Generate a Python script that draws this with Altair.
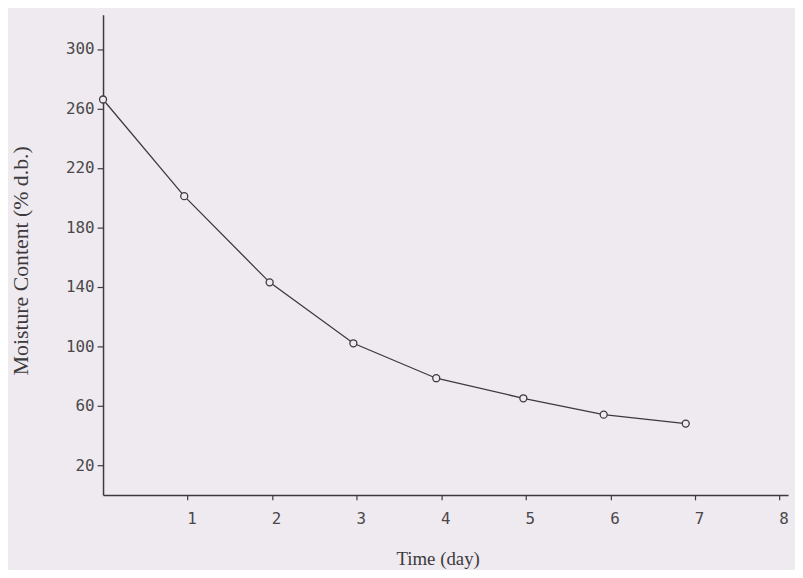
import altair as alt
import pandas as pd

days = [0, 0.96, 1.97, 2.96, 3.94, 4.97, 5.92, 6.89]
moisture = [266, 201, 143, 102, 78.5, 65, 54, 48]
x_ticks = [1, 2, 3, 4, 5, 6, 7, 8]
y_ticks = [20, 60, 100, 140, 180, 220, 260, 300]

df = pd.DataFrame({"day": days, "mc": moisture})

ink = "#3c3a3c"
bg = "#eeeaf0"

x = alt.X("day:Q",
          scale=alt.Scale(domain=[0, 8.1], nice=False),
          axis=alt.Axis(title="Time (day)", values=x_ticks, grid=False,
                        domain=True, domainColor=ink, domainWidth=1.5,
                        tickColor=ink, tickSize=5, tickWidth=1.2,
                        labelFont="DejaVu Sans Mono", labelFontSize=16,
                        labelColor="#4a484a", labelPadding=11, labelOffset=4,
                        titleFont="Liberation Serif", titleFontSize=19,
                        titleFontWeight="normal", titleColor=ink,
                        titleBaseline="top", titleX=338, titleY=55))
y = alt.Y("mc:Q",
          scale=alt.Scale(domain=[0, 323], nice=False),
          axis=alt.Axis(title="Moisture Content (% d.b.)", values=y_ticks, grid=False,
                        domain=True, domainColor=ink, domainWidth=1.5,
                        tickColor=ink, tickSize=6, tickWidth=1.2,
                        labelFont="DejaVu Sans Mono", labelFontSize=16,
                        labelColor="#4a484a", labelPadding=3,
                        titleFont="Liberation Serif", titleFontSize=22,
                        titleFontWeight="normal", titleColor=ink,
                        titleX=-71, titleY=248))

line = alt.Chart(df).mark_line(color=ink, strokeWidth=1.3).encode(x=x, y=y)
pts = alt.Chart(df).mark_point(shape="circle", filled=True, fill=bg, color=ink,
                               stroke=ink, strokeWidth=1.3, size=50,
                               opacity=1).encode(x=x, y=y)

chart = (line + pts).properties(
    width=692, height=485,
    autosize=alt.AutoSizeParams(type="none"),
    padding={"left": 96, "top": 4, "right": 7, "bottom": 73},
    background=bg,
).configure_view(stroke=None)

chart.save("out.html", embed_options={"renderer": "svg", "actions": False})
